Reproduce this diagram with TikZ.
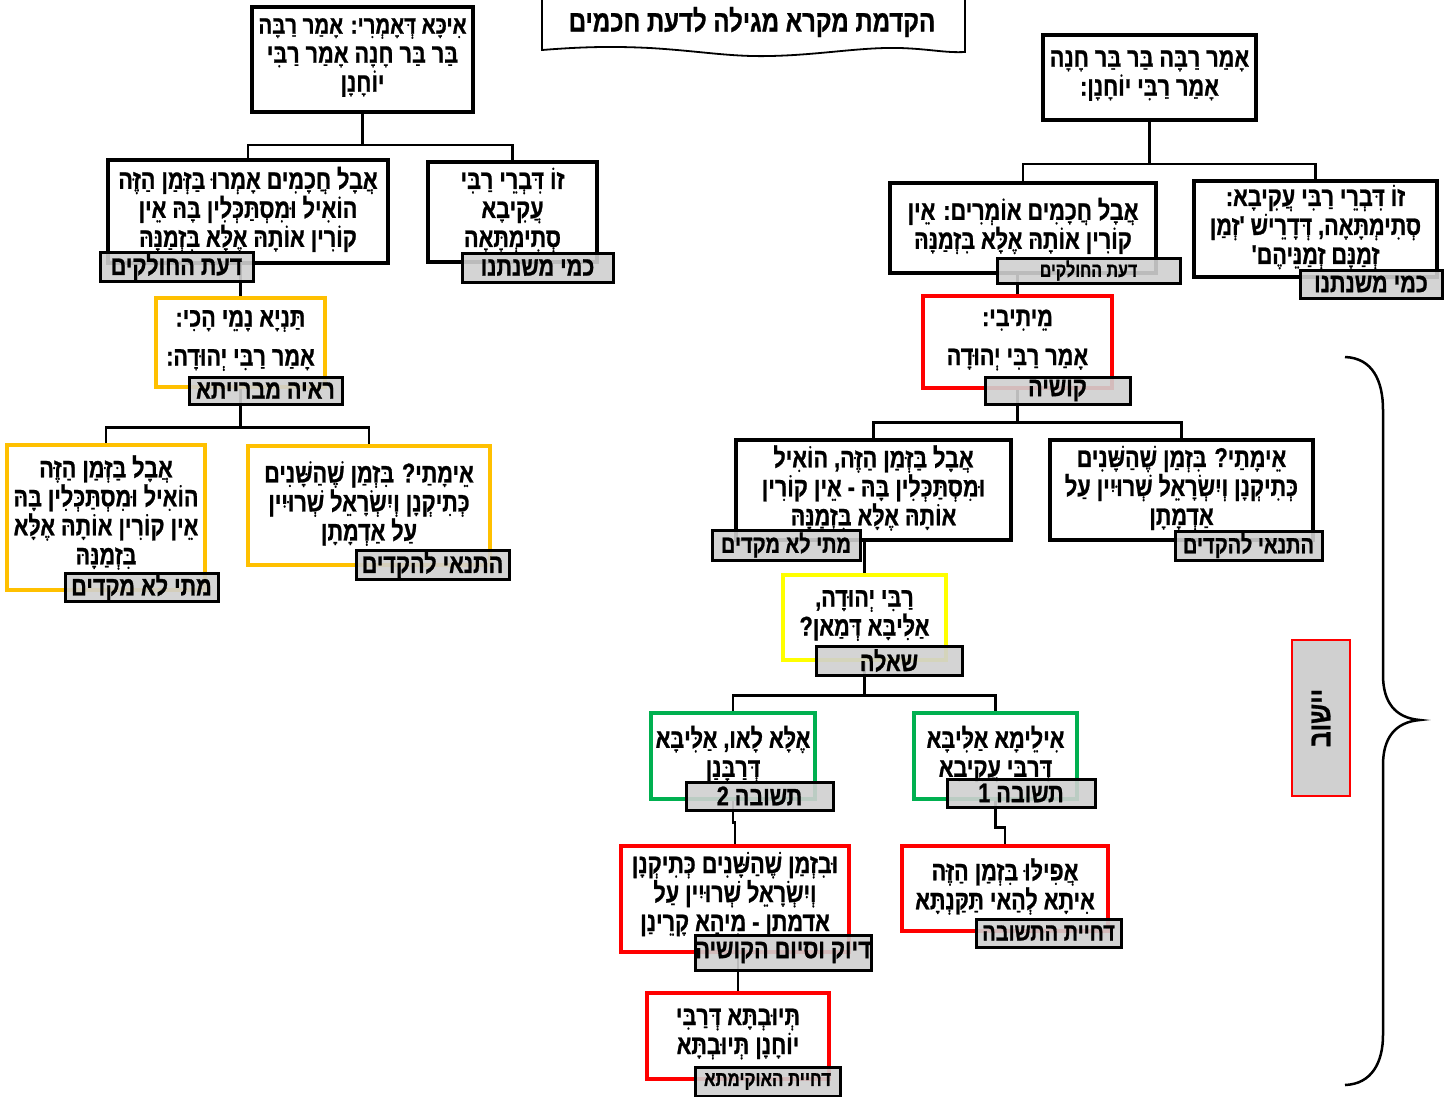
\documentclass[tikz,border=0pt]{standalone}
\usepackage{fontspec}
\newfontfamily\heb[Script=Hebrew,FakeStretch=0.8,FakeBold=0.9]{Liberation Sans Bold}
\TeXXeTstate=1
\usetikzlibrary{calc}
\pgfdeclarelayer{bg}
\pgfsetlayers{bg,main}
\definecolor{cOr}{HTML}{FFC000}
\definecolor{cYe}{HTML}{FFFF00}
\definecolor{cGr}{HTML}{00B050}
\definecolor{cRe}{HTML}{FF0000}
\definecolor{cLb}{HTML}{D0D0D0}
\newcommand\bx[8][2]{%
  \pgfmathsetmacro\bw{#6-#4}\pgfmathsetmacro\bh{#7-#5}%
  \pgfmathsetmacro\bcx{(#4+#6)/2}\pgfmathsetmacro\bcy{(#5+#7)/2}%
  \node[#3, minimum width=\bw pt, minimum height=\bh pt] (#2) at (\bcx,\bcy) {};
  \node[txt] (#2t) at ([yshift=#1pt]#2.center) {#8};}
\newcommand\lb[7]{%
  \pgfmathsetmacro\bw{#4-#2}\pgfmathsetmacro\bh{#5-#3}%
  \pgfmathsetmacro\bcx{(#2+#4)/2}\pgfmathsetmacro\bcy{(#3+#5)/2}%
  \node[lbl, minimum width=\bw pt, minimum height=\bh pt, font=\heb\fontsize{#7}{#7}\selectfont] (#1) at (\bcx,\bcy) {#6};}
\tikzset{
  txt/.style={font=\heb\fontsize{27}{29}\selectfont, align=center, inner sep=0pt},
  frame/.style={fill=white, inner sep=0pt},
  bbox/.style={frame, draw=black, line width=4pt},
  obox/.style={frame, draw=cOr, line width=3.5pt},
  ybox/.style={frame, draw=cYe, line width=3.5pt},
  gbox/.style={frame, draw=cGr, line width=3.5pt},
  rbox/.style={frame, draw=cRe, line width=3.5pt},
  lbl/.style={draw=black, line width=3pt, fill=cLb, fill opacity=0.9, text opacity=1, inner sep=0pt},
  conn/.style={draw=black, line width=2.6pt}
}
\begin{document}
\begin{tikzpicture}[x=1pt,y=-1pt]
\useasboundingbox (0,0) rectangle (1456,1096);
\begin{pgfonlayer}{bg}
\fill[white] (0,0) rectangle (1456,1096);
\end{pgfonlayer}
% title
\draw[line width=1.8pt, fill=white] (542,-5) -- (542,50)
  .. controls (580,47) and (610,46) .. (650,48)
  .. controls (700,51) and (730,57) .. (770,56)
  .. controls (820,55) and (860,47) .. (900,48)
  .. controls (930,49) and (945,53) .. (965,52) -- (965,-5);
\node[font=\heb\fontsize{30}{30}\selectfont, inner sep=0pt] (title) at (752,22) {\beginR הקדמת מקרא מגילה לדעת חכמים\endR};
% left tree
\bx{L1}{bbox}{252}{7}{473}{112}{\fontsize{25.5}{29}\selectfont\beginR אִיכָּא דְּאָמְרִי: אָמַר רַבָּה\endR\\\beginR בַּר בַּר חָנָה אָמַר רַבִּי\endR\\\beginR יוֹחָנָן\endR}
\bx{L2}{bbox}{108}{160}{388}{263}{\beginR אֲבָל חֲכָמִים אָמְרוּ בַּזְּמַן הַזֶּה\endR\\\beginR הוֹאִיל וּמִסְתַּכְּלִין בָּהּ אֵין\endR\\\beginR קוֹרִין אוֹתָהּ אֶלָּא בִּזְמַנָּהּ\endR}
\bx{L3}{bbox}{428}{162}{597}{262}{\beginR זוֹ דִּבְרֵי רַבִּי\endR\\\beginR עֲקִיבָא\endR\\\beginR סְתִימְתָּאָה\endR}
\bx{L4}{obox}{156}{298}{325}{387}{\beginR תַּנְיָא נָמֵי הָכִי:\endR\\[10pt]\beginR אָמַר רַבִּי יְהוּדָה:\endR}
\bx[5]{L5}{obox}{7}{445}{205}{590}{\beginR אֲבָל בַּזְּמַן הַזֶּה\endR\\\beginR הוֹאִיל וּמִסְתַּכְּלִין בָּהּ\endR\\\beginR אֵין קוֹרִין אוֹתָהּ אֶלָּא\endR\\\beginR בִּזְמַנָּהּ\endR}
\bx{L6}{obox}{248}{446}{490}{565}{\beginR אֵימָתַי? בִּזְמַן שֶׁהַשָּׁנִים\endR\\\beginR כְּתִיקְנָן וְיִשְׂרָאֵל שְׁרוּיִין\endR\\\beginR עַל אַדְמָתָן\endR}
% right tree
\bx{R1}{bbox}{1043}{35}{1256}{120}{\beginR אָמַר רַבָּה בַּר בַּר חָנָה\endR\\\beginR אָמַר רַבִּי יוֹחָנָן:\endR}
\bx{R2}{bbox}{890}{183}{1156}{273}{\beginR אֲבָל חֲכָמִים אוֹמְרִים: אֵין\endR\\\beginR קוֹרִין אוֹתָהּ אֶלָּא בִּזְמַנָּהּ\endR}
\bx{R3}{bbox}{1194}{181}{1437}{277}{\beginR זוֹ דִּבְרֵי רַבִּי עֲקִיבָא:\endR\\\beginR סְתִימְתָּאָה, דְּדָרֵישׁ 'זְמַן\endR\\\beginR זְמַנָּם זְמַנֵּיהֶם'\endR}
\bx{R4}{rbox}{923}{296}{1112}{388}{\beginR מֵיתִיבִי:\endR\\[10pt]\beginR אָמַר רַבִּי יְהוּדָה\endR}
\bx{R5}{bbox}{736}{440}{1011}{540}{\beginR אֲבָל בַּזְּמַן הַזֶּה, הוֹאִיל\endR\\\beginR וּמִסְתַּכְּלִין בָּהּ - אֵין קוֹרִין\endR\\\beginR אוֹתָהּ אֶלָּא בִּזְמַנָּהּ\endR}
\bx{R6}{bbox}{1050}{440}{1313}{540}{\beginR אֵימָתַי? בִּזְמַן שֶׁהַשָּׁנִים\endR\\\beginR כְּתִיקְנָן וְיִשְׂרָאֵל שְׁרוּיִין עַל\endR\\\beginR אַדְמָתָן\endR}
\bx{R7}{ybox}{783}{575}{946}{660}{\beginR רַבִּי יְהוּדָה,\endR\\\beginR אַלִּיבָּא דְּמַאן?\endR}
\bx{R8}{gbox}{651}{713}{815}{799}{\beginR אֶלָּא לָאו, אַלִּיבָּא\endR\\\beginR דְּרַבָּנַן\endR}
\bx{R9}{gbox}{914}{713}{1077}{799}{\beginR אִילֵימָא אַלִּיבָּא\endR\\\beginR דְּרַבִּי עֲקִיבָא\endR}
\bx[5]{R10}{rbox}{621}{846}{849}{952}{\beginR וּבִזְמַן שֶׁהַשָּׁנִים כְּתִיקְנָן\endR\\\beginR וְיִשְׂרָאֵל שְׁרוּיִין עַל\endR\\\beginR אדמתן - מִיהָא קָרֵינַן\endR}
\bx{R11}{rbox}{902}{846}{1108}{931}{\beginR אֲפִילּוּ בִּזְמַן הַזֶּה\endR\\\beginR אִיתָא לְהַאי תַּקַּנְתָּא\endR}
\bx{R12}{rbox}{647}{993}{829}{1079}{\beginR תְּיוּבְתָּא דְּרַבִּי\endR\\\beginR יוֹחָנָן תְּיוּבְתָּא\endR}
% connectors
\begin{pgfonlayer}{bg}
\draw[conn] (L1.south) -- ++(0,31) coordinate (jL1);
\draw[conn] (L2.north) |- (jL1) -| (L3.north);
\draw[conn] (L4.north) -- (L4.north |- L2.south);
\draw[conn] (L4.south) -- ++(0,39) coordinate (jL4);
\draw[conn] (L5.north) |- (jL4) -| (L6.north);
\draw[conn] (R1.south) -- ++(0,42) coordinate (jR1);
\draw[conn] (R2.north) |- (jR1) -| (R3.north);
\draw[conn] (R4.north) -- (R4.north |- R2.south);
\draw[conn] (R4.south) -- ++(0,33) coordinate (jR4);
\draw[conn] (R5.north) |- (jR4) -| (R6.north);
\draw[conn] (R7.north) -- (R7.north |- R5.south);
\draw[conn] (R7.south) -- ++(0,34) coordinate (jR7);
\draw[conn] (R8.north) |- (jR7) -| (R9.north);
\draw[conn] (R8.south) -- ++(0,22) -| (R10.north);
\draw[conn] (R9.south) -- ++(0,27) -| (R11.north);
\draw[conn] (R12.north) -- (R12.north |- R10.south);
\end{pgfonlayer}
% labels
\lb{lL2}{100}{252}{253}{281}{\beginR דעת החולקים\endR}{27}
\lb{lL3}{462}{253}{613}{282}{\beginR כמי משנתנו\endR}{27}
\lb{lL4}{189}{377}{342}{404}{\beginR ראיה מברייתא\endR}{27}
\lb{lL5}{65}{573}{218}{601}{\beginR מתי לא מקדים\endR}{27}
\lb{lL6}{356}{550}{509}{579}{\beginR התנאי להקדים\endR}{27}
\lb{lR2}{997}{258}{1180}{283}{\beginR דעת החולקים\endR}{20}
\lb{lR3}{1300}{270}{1442}{298}{\beginR כמי משנתנו\endR}{27}
\lb{lR4}{985}{377}{1130}{404}{\beginR קושיה\endR}{27}
\lb{lR5}{712}{530}{860}{560}{\beginR מתי לא מקדים\endR}{25}
\lb{lR6}{1175}{531}{1322}{560}{\beginR התנאי להקדים\endR}{25}
\lb{lR7}{816}{646}{962}{675}{\beginR שאלה\endR}{27}
\lb{lR8}{686}{782}{833}{810}{\beginR תשובה 2\endR}{27}
\lb{lR9}{947}{779}{1095}{807}{\beginR תשובה 1\endR}{27}
\lb{lR10}{695}{935}{871}{970}{\beginR דיוק וסיום הקושיה\endR}{27}
\lb{lR11}{976}{919}{1121}{947}{\beginR דחיית התשובה\endR}{25}
\lb{lR12}{695}{1067}{840}{1096}{\beginR דחיית האוקימתא\endR}{21}
% resolution box and brace
\node[draw=cRe, line width=2.5pt, fill=cLb, minimum width=58pt, minimum height=156pt, inner sep=0pt] (res) at (1321,718) {};
\node[rotate=90, font=\heb\fontsize{31}{31}\selectfont, inner sep=0pt] (restext) at (res.center) {\beginR יישוב\endR};
\draw[line width=2.5pt] (1345,357) .. controls (1372,358) and (1383,380) .. (1383,410) -- (1383,675)
  .. controls (1383,702) and (1395,718) .. (1420,720)
  .. controls (1395,722) and (1383,738) .. (1383,765) -- (1383,1035)
  .. controls (1383,1062) and (1372,1084) .. (1345,1085);
\end{tikzpicture}
\end{document}
